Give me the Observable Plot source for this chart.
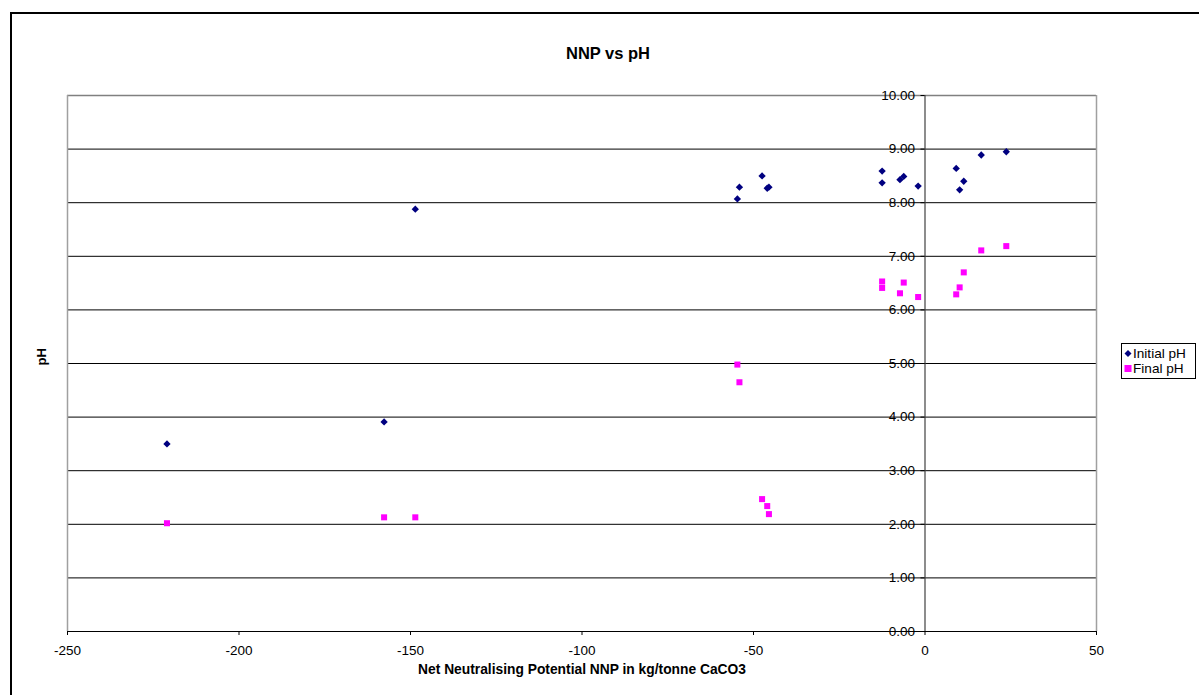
<!DOCTYPE html>
<html>
<head>
<meta charset="utf-8">
<script src="https://cdn.jsdelivr.net/npm/d3@7"></script>
<script src="https://cdn.jsdelivr.net/npm/@observablehq/plot@0.6"></script>
<style>
  html, body { margin: 0; padding: 0; background: #fff; overflow: hidden; }
  #wrap { position: relative; width: 1199px; height: 695px; font-family: "Liberation Sans", Arial, sans-serif; }
  #outer { position: absolute; left: 10px; top: 12px; width: 1300px; height: 800px; border-left: 2px solid #000; border-top: 2px solid #000; pointer-events: none; }
  #legend { position: absolute; left: 1121px; top: 343px; width: 73px; height: 34px; border: 1px solid #000; background: #fff; font-size: 13.6px; color: #000; }
  .row { position: absolute; left: 0; height: 15px; line-height: 15px; white-space: nowrap; }
  .row svg { position: absolute; left: 0; top: 0; }
  .row span { position: absolute; left: 9px; top: 0; }
</style>
</head>
<body>
<div id="wrap">
  <div id="chart"></div>
  <div id="outer"></div>
  <div id="legend"></div>
</div>
<script>
// ---- data ----
const title = "NNP vs pH";
const xTitle = "Net Neutralising Potential NNP in kg/tonne CaCO3";
const yTitle = "pH";
const seriesNames = ["Initial pH", "Final pH"];
const seriesColors = ["#000080", "#FF00FF"];

const nnp       = [-221.0, -157.7, -148.6, -54.7, -54.1, -47.5, -46.0, -45.5, -12.5, -12.5, -7.3, -6.2, -2.0, 9.1, 10.1, 11.3, 16.4, 23.7];
const initialPH = [3.50, 3.91, 7.88, 8.07, 8.29, 8.50, 8.27, 8.29, 8.59, 8.37, 8.43, 8.49, 8.31, 8.64, 8.24, 8.40, 8.89, 8.95];
const finalPH   = [2.02, 2.13, 2.13, 4.98, 4.65, 2.47, 2.34, 2.19, 6.53, 6.41, 6.31, 6.51, 6.24, 6.29, 6.42, 6.70, 7.11, 7.19];

const xDomain = [-250, 50];
const xTicks = [-250, -200, -150, -100, -50, 0, 50];
const yDomain = [0, 10];
const yTicks = [0, 1, 2, 3, 4, 5, 6, 7, 8, 9, 10];

// ---- layout ----
const W = 1199, H = 695;
const mL = 67, mR = 103, mT = 95, mB = 64;
const pxPerUnitX = (W - mL - mR) / (xDomain[1] - xDomain[0]);
const pxPerUnitY = (H - mT - mB) / (yDomain[1] - yDomain[0]);
const tickUnitsX = 4 / pxPerUnitX;
const tickUnitsY = 4 / pxPerUnitY;

const initialData = nnp.map((x, i) => ({x, y: initialPH[i]}));
const finalData = nnp.map((x, i) => ({x, y: finalPH[i]}));
const fmt2 = d3.format(".2f");

const chart = Plot.plot({
  width: W,
  height: H,
  marginLeft: mL,
  marginRight: mR,
  marginTop: mT,
  marginBottom: mB,
  style: {fontFamily: "'Liberation Sans', Arial, sans-serif", background: "#fff", color: "#000", overflow: "visible"},
  x: {domain: xDomain, axis: null},
  y: {domain: yDomain, axis: null},
  marks: [
    // gridlines
    Plot.ruleY(yTicks.filter(t => t > yDomain[0] && t < yDomain[1]), {stroke: "#000", strokeWidth: 1}),
    // plot-area border (gray)
    Plot.ruleY([yDomain[1]], {stroke: "#808080", strokeWidth: 1.5}),
    Plot.ruleX(xDomain, {stroke: "#a0a0a0", strokeWidth: 1.5}),
    // x-axis line
    Plot.ruleY([yDomain[0]], {stroke: "#000", strokeWidth: 1.2}),
    // x ticks
    Plot.ruleX(xTicks, {y1: yDomain[0] - tickUnitsY, y2: yDomain[0], stroke: "#000", clip: false}),
    // y axis at x = 0
    Plot.ruleX([0], {stroke: "#404040", strokeWidth: 1.2}),
    Plot.ruleY(yTicks, {x1: -tickUnitsX, x2: 0, stroke: "#000"}),
    Plot.text(yTicks, {x: 0, y: d => d, text: d => fmt2(d), textAnchor: "end", dx: -10, fontSize: 13.5, fill: "#000"}),
    // x tick labels
    Plot.text(xTicks, {x: d => d, y: yDomain[0], text: d => String(d), dy: 19, fontSize: 13.5, fill: "#000"}),
    // series
    Plot.dot(initialData, {x: "x", y: "y", symbol: "diamond2", r: 3.3, fill: seriesColors[0], stroke: "none"}),
    Plot.dot(finalData, {x: "x", y: "y", symbol: "square", r: 3.4, fill: seriesColors[1], stroke: "none"}),
    // titles
    Plot.text([title], {frameAnchor: "top", dx: 26, dy: -48, text: d => d, fontSize: 16.5, fontWeight: "bold", fill: "#000"}),
    Plot.text([xTitle], {frameAnchor: "bottom", dy: 42, text: d => d, fontSize: 13.8, fontWeight: "bold", fill: "#000"}),
    Plot.text([yTitle], {frameAnchor: "left", dx: -26, dy: 2, rotate: -90, text: d => d, fontSize: 13, fontWeight: "bold", fill: "#000"})
  ]
});
document.getElementById("chart").appendChild(chart);

// legend
const legend = document.getElementById("legend");
const symbols = [
  '<svg width="8" height="15"><path d="M4,4 L7.5,7.5 L4,11 L0.5,7.5 Z" fill="' + seriesColors[0] + '"/></svg>',
  '<svg width="8" height="15"><rect x="0.5" y="4" width="7" height="7" fill="' + seriesColors[1] + '"/></svg>'
];
seriesNames.forEach((name, i) => {
  const row = document.createElement("div");
  row.className = "row";
  row.style.top = (2 + i * 15) + "px";
  row.style.left = "2px";
  row.innerHTML = symbols[i] + "<span>" + name + "</span>";
  legend.appendChild(row);
});
</script>
</body>
</html>
